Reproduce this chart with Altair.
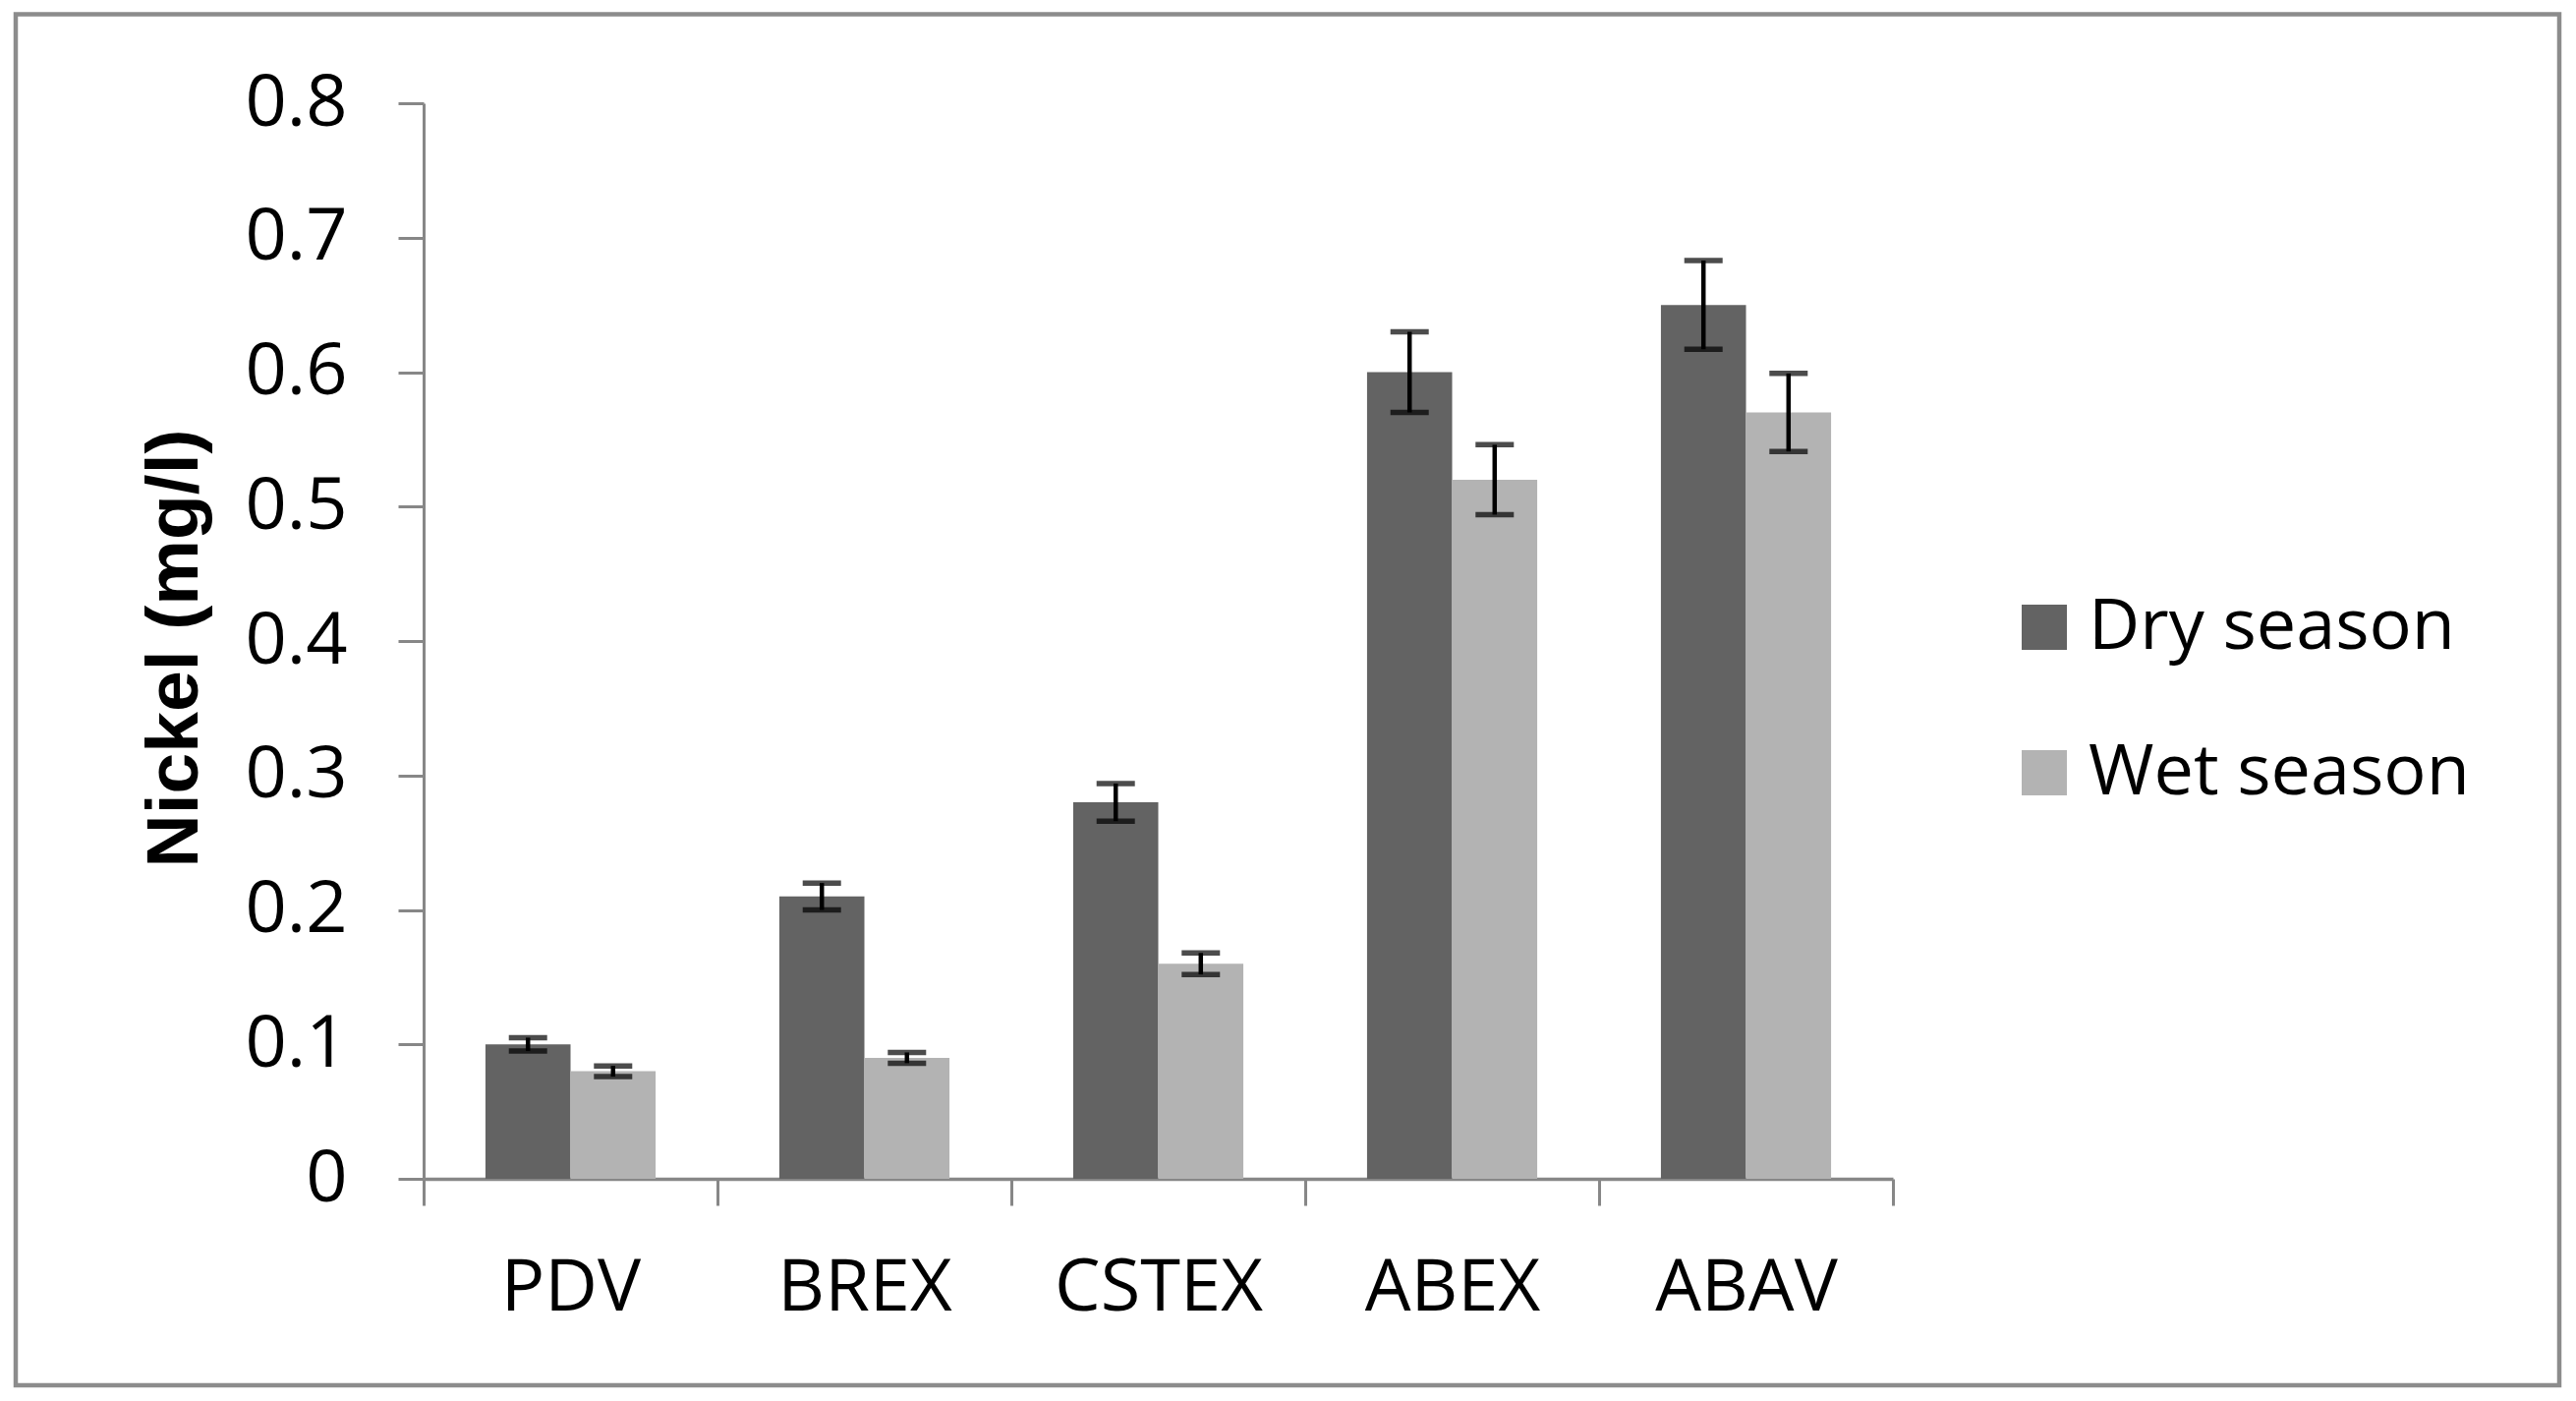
import altair as alt
import pandas as pd

sites = ["PDV", "BREX", "CSTEX", "ABEX", "ABAV"]
seasons = ["Dry season", "Wet season"]
dry = [0.10, 0.21, 0.28, 0.60, 0.65]
wet = [0.08, 0.09, 0.16, 0.52, 0.57]
dry_err = [0.005, 0.010, 0.014, 0.030, 0.033]
wet_err = [0.004, 0.004, 0.008, 0.026, 0.029]
y_ticks = [0, 0.1, 0.2, 0.3, 0.4, 0.5, 0.6, 0.7, 0.8]

rows = []
for s, v, e in zip(sites, dry, dry_err):
    rows.append({"site": s, "season": seasons[0], "value": v, "lo": v - e, "hi": v + e})
for s, v, e in zip(sites, wet, wet_err):
    rows.append({"site": s, "season": seasons[1], "value": v, "lo": v - e, "hi": v + e})
df = pd.DataFrame(rows)

AX = "#878787"
FONT = "Open Sans"

x_enc = alt.X(
    "site:N", sort=sites,
    scale=alt.Scale(paddingInner=0, paddingOuter=0),
    axis=alt.Axis(
        title=None, labelAngle=0, labelFont=FONT, labelFontSize=74, labelColor="black",
        labelPadding=48, labelLimit=0, tickBand="extent", tickSize=27, tickWidth=3,
        tickColor=AX, domainColor=AX, domainWidth=3.5, grid=False,
    ),
)
xo_enc = alt.XOffset("season:N", sort=seasons, scale=alt.Scale(paddingInner=0, paddingOuter=0.727))
y_scale = alt.Scale(domain=[0, 0.8], nice=False, zero=True)

base = alt.Chart(df).encode(x=x_enc, xOffset=xo_enc)

bars = base.mark_bar().encode(
    y=alt.Y(
        "value:Q", scale=y_scale,
        axis=alt.Axis(
            values=y_ticks, format=".1~f", grid=False,
            labelFont=FONT, labelFontSize=74, labelColor="black", labelPadding=52,
            tickSize=26, tickWidth=3, tickColor=AX, domainColor=AX, domainWidth=3,
            title="Nickel (mg/l)", titleFont="Liberation Sans", titleFontWeight="bold",
            titleFontSize=75, titleColor="black", titleAngle=270,
            titleX=-231, titleY=554, titleAlign="center", titleBaseline="alphabetic",
        ),
    ),
    color=alt.Color(
        "season:N",
        scale=alt.Scale(domain=seasons, range=["#636363", "#b3b3b3"]),
        legend=alt.Legend(
            title=None, orient="none", legendX=1613, legendY=497, padding=0,
            symbolType="square", symbolSize=2116, symbolStrokeWidth=0,
            labelFont=FONT, labelFontSize=72, labelColor="black", labelLimit=0,
            labelOffset=9, rowPadding=76,
        ),
    ),
)

stems = base.mark_rule(color="black", strokeWidth=4.5).encode(
    y=alt.Y("lo:Q", scale=y_scale), y2="hi:Q"
)
cap_hi = base.mark_tick(color="black", thickness=5.5, size=39, orient="horizontal").encode(
    y=alt.Y("hi:Q", scale=y_scale)
)
cap_lo = base.mark_tick(color="black", thickness=5.5, size=39, orient="horizontal").encode(
    y=alt.Y("lo:Q", scale=y_scale)
)

frame = alt.Chart(alt.Data(values=[{"f": 1}])).mark_rect(
    filled=False, stroke="#8c8c8c", strokeWidth=4.5
).encode(
    x=alt.value(16 - 431), x2=alt.value(2604 - 431),
    y=alt.value(14.5 - 105), y2=alt.value(1409 - 105),
)

chart = alt.layer(bars, stems, cap_hi, cap_lo, frame).properties(
    width=1495, height=1094,
    autosize=alt.AutoSizeParams(type="none"),
    padding={"left": 423, "top": 97, "right": 685, "bottom": 216},
    background="white",
).configure_view(stroke=None)

chart.save("out.html", embed_options={"renderer": "svg", "actions": False})
